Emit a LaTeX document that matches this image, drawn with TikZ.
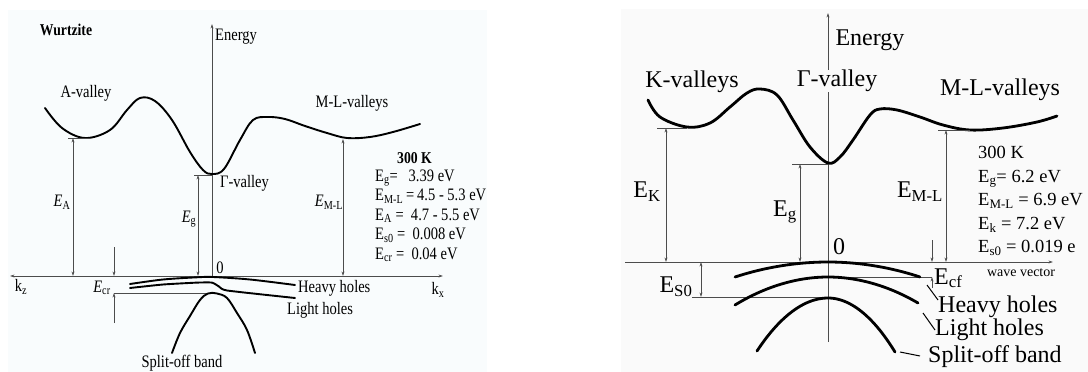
\documentclass[tikz,border=0pt]{standalone}
\usepackage{fontspec}
\setmainfont{Liberation Serif}
\newfontfamily\lf[FakeStretch=0.83]{Liberation Serif}
\usetikzlibrary{arrows.meta}
\definecolor{panelL}{RGB}{249,252,253}
\definecolor{panelR}{RGB}{250,250,250}
\tikzset{
  bandL/.style={line width=1.9pt, line cap=round},
  bandR/.style={line width=2.8pt, line cap=round},
  fine/.style={line width=0.7pt, draw=black!70},
  dimar/.style={fine, {Stealth[length=4.5pt,width=2.8pt]}-{Stealth[length=4.5pt,width=2.8pt]}},
  tipar/.style={fine, -{Stealth[length=4.5pt,width=2.8pt]}},
  lt/.style={font=\lf\fontsize{17.5}{19}\selectfont, inner sep=0},
  ltb/.style={font=\lf\bfseries\fontsize{16.5}{18}\selectfont, inner sep=0},
  rt/.style={font=\fontsize{24}{26}\selectfont, inner sep=0},
  rv/.style={font=\fontsize{18.5}{20}\selectfont, inner sep=0},
  rs/.style={font=\fontsize{14}{16}\selectfont, inner sep=0},
}
\begin{document}
\begin{tikzpicture}[x=1pt,y=-1pt]
\useasboundingbox (0,0) rectangle (1088,372);
\fill[white] (0,0) rectangle (1088,372);
\fill[panelL] (8,10) rectangle (487,372);
\fill[panelR] (621,9) rectangle (1088,372);

% ================= LEFT PANEL =================
\coordinate (LaxL) at (10,276);
\coordinate (LaxR) at (443,276);
\draw[dimar] (LaxL) -- (LaxR);
\coordinate (LEb) at (212,276);
\coordinate (LEt) at (212,24);
\draw[tipar] (LEb) -- (LEt);

\node[ltb] (Lwz) at (66,30) {Wurtzite};
\node[lt, anchor=west] (Len) at (215,37) {Energy};
\node[lt] (Lav) at (86,93) {A-valley};
\node[lt] (Lmlv) at (352,103) {M-L-valleys};
\node[lt, anchor=west] (Lgv) at (220,183) {Γ-valley};
\node[lt] (Lzero) at (220,268) {0};
\node[lt] (Lkz) at (21,287) {k\textsubscript{z}};
\node[lt] (Lkx) at (438,290) {k\textsubscript{x}};

% conduction band
\draw[bandL] plot[smooth, tension=0.6] coordinates {(45,108) (62,128) (85,138) (110,130) (127,110) (140,98) (155,101) (172,120) (190,152) (203,170) (212,174) (224,169) (240,140) (253,120) (268,117) (285,119) (305,126) (327,133) (347,138) (370,137) (393,132) (420,124)};

% E_A
\coordinate (LAt) at (73,138);
\coordinate (LAb) at (73,276);
\draw[fine] (68,138) -- (90,138);
\draw[dimar] (LAt) -- (LAb);
\node[lt] (LEA) at (62,202) {\textit{E}\textsubscript{A}};
% E_g
\coordinate (Lgt) at (198,175);
\coordinate (Lgb) at (198,276);
\draw[fine] (194,175) -- (212,175);
\draw[dimar] (Lgt) -- (Lgb);
\node[lt] (LEg) at (189,219) {\textit{E}\textsubscript{g}};
% E_ML
\coordinate (LMt) at (343,139);
\coordinate (LMb) at (343,276);
\draw[dimar] (LMt) -- (LMb);
\node[lt] (LEML) at (329,202) {\textit{E}\textsubscript{M-L}};
% E_cr
\coordinate (Lc1) at (114,247);
\coordinate (Lc2) at (114,276);
\coordinate (Lc3) at (114,323);
\coordinate (Lc4) at (114,293);
\coordinate (Lc5) at (213,293);
\draw[tipar] (Lc1) -- (Lc2);
\draw[tipar] (Lc3) -- (Lc4);
\draw[fine] (Lc4) -- (Lc5);
\node[lt] (LEcr) at (102,288) {\textit{E}\textsubscript{cr}};

% valence bands
\draw[bandL] plot[smooth, tension=0.5] coordinates {(130,284) (163,279.5) (197,277.3) (213,277) (250,279.5) (295,285)};
\draw[bandL] plot[smooth, tension=0.3] coordinates {(130,288) (163,284.5) (197,282.6) (212,282.6) (219,286.5) (227,290.5) (295,298)};
\draw[bandL] plot[smooth, tension=0.6] coordinates {(172,353) (180,333) (190,316) (200,300) (208,293.5) (217,293.5) (227,298) (237,313) (247,330) (255,353)};
\node[lt, anchor=west] (Lhh) at (298,288.5) {Heavy holes};
\node[lt, anchor=west] (Llh) at (287,310.5) {Light holes};
\node[lt] (Lso) at (182,363) {Split-off band};

% data
\node[ltb, anchor=base west] (Lt0) at (397,163) {300 K};
\node[lt, anchor=base west] (Lt1) at (375,181) {E\textsubscript{g}=\ \ \ 3.39 eV};
\node[lt, anchor=base west] (Lt2) at (375,200.5) {E\textsubscript{M-L}\,=\,4.5 - 5.3 eV};
\node[lt, anchor=base west] (Lt3) at (375,220) {E\textsubscript{A} =\ \ 4.7 - 5.5 eV};
\node[lt, anchor=base west] (Lt4) at (375,239.5) {E\textsubscript{s0} =\ \ 0.008 eV};
\node[lt, anchor=base west] (Lt5) at (375,259) {E\textsubscript{cr} =\ \ 0.04 eV};

% ================= RIGHT PANEL =================
\coordinate (RaxL) at (625,262);
\coordinate (RaxR) at (1053,262);
\draw[tipar] (RaxL) -- (RaxR);
\coordinate (REb) at (828,342);
\coordinate (REt) at (828,13);
\draw[tipar] (REb) -- (REt);

\node[rt] (Ren) at (870,40) {Energy};
\node[rt] (Rkv) at (692,82) {K-valleys};
\node[rt, fill=panelR, inner xsep=1pt] (Rgv) at (837,81) {Γ-valley};
\node[rt] (Rmlv) at (1000,90) {M-L-valleys};
\node[rt] (Rzero) at (839,247) {0};
\node[rs] (Rwv) at (1021,273) {wave vector};

% conduction band
\draw[bandR] plot[smooth, tension=0.6] coordinates {(648,100) (660,117) (687,127) (710,123) (730,107) (747,93) (760,89) (777,95) (793,120) (810,147) (828,163) (840,157) (853,140) (870,115) (880,109) (897,110) (920,117) (943,125) (970,130) (1003,128) (1037,122) (1057,116)};

% E_K
\coordinate (RKt) at (666,128);
\coordinate (RKb) at (666,262);
\draw[fine] (657,128) -- (687,128);
\draw[dimar] (RKt) -- (RKb);
\node[rt] (REK) at (647,192) {E\textsubscript{K}};
% E_g
\coordinate (Rgt) at (800,164);
\coordinate (Rgb) at (800,262);
\draw[fine] (792,164) -- (828,164);
\draw[dimar] (Rgt) -- (Rgb);
\node[rt] (REg) at (785,212) {E\textsubscript{g}};
% E_ML
\coordinate (RMt) at (946,130);
\coordinate (RMb) at (946,262);
\draw[fine] (938,130) -- (970,130);
\draw[dimar] (RMt) -- (RMb);
\node[rt] (REML) at (920,192) {E\textsubscript{M-L}};
% E_S0
\coordinate (RSt) at (701,262);
\coordinate (RSb) at (701,297);
\coordinate (RSr) at (828,297);
\draw[dimar] (RSt) -- (RSb);
\draw[fine] (692,297) -- (RSr);
\node[rt] (RES) at (676,287) {E\textsubscript{S0}};
% E_cf
\coordinate (Rc1) at (932,240);
\coordinate (Rc2) at (932,262);
\coordinate (Rc3) at (932,288);
\coordinate (Rc4) at (932,277);
\coordinate (Rc5) at (828,277);
\draw[tipar] (Rc1) -- (Rc2);
\draw[tipar] (Rc3) -- (Rc4);
\draw[fine] (Rc5) -- (Rc4);
\node[rt, anchor=base west] (REcf) at (934,284) {E\textsubscript{cf}};

% valence bands
\draw[bandR] (735,277) parabola bend (828,262) (920,277);
\draw[bandR] (735,305) parabola bend (828,277) (918,303);
\draw[bandR] (757,351) parabola bend (828,298) (895,352);
\node[rt, anchor=base west] (Rhh) at (938,312) {Heavy holes};
\node[rt, anchor=base west] (Rlh) at (935,335) {Light holes};
\node[rt, anchor=base west] (Rso) at (928,362) {Split-off band};
\coordinate (Rl1a) at (927,285);
\coordinate (Rl1b) at (938,300);
\coordinate (Rl2a) at (923,313);
\coordinate (Rl2b) at (935,330);
\coordinate (Rl3a) at (900,352);
\coordinate (Rl3b) at (920,356);
\draw[line width=1pt] (Rl1a) -- (Rl1b);
\draw[line width=1pt] (Rl2a) -- (Rl2b);
\draw[line width=1pt] (Rl3a) -- (Rl3b);

% data
\node[rv, anchor=base west] (Rt0) at (978,158) {300 K};
\node[rv, anchor=base west] (Rt1) at (978,182) {E\textsubscript{g}= 6.2 eV};
\node[rv, anchor=base west] (Rt2) at (978,205.5) {E\textsubscript{M-L} = 6.9 eV};
\node[rv, anchor=base west] (Rt3) at (978,229) {E\textsubscript{k} =\ 7.2 eV};
\node[rv, anchor=base west] (Rt4) at (978,252.5) {E\textsubscript{s0} =\ 0.019 e};
\end{tikzpicture}
\end{document}
